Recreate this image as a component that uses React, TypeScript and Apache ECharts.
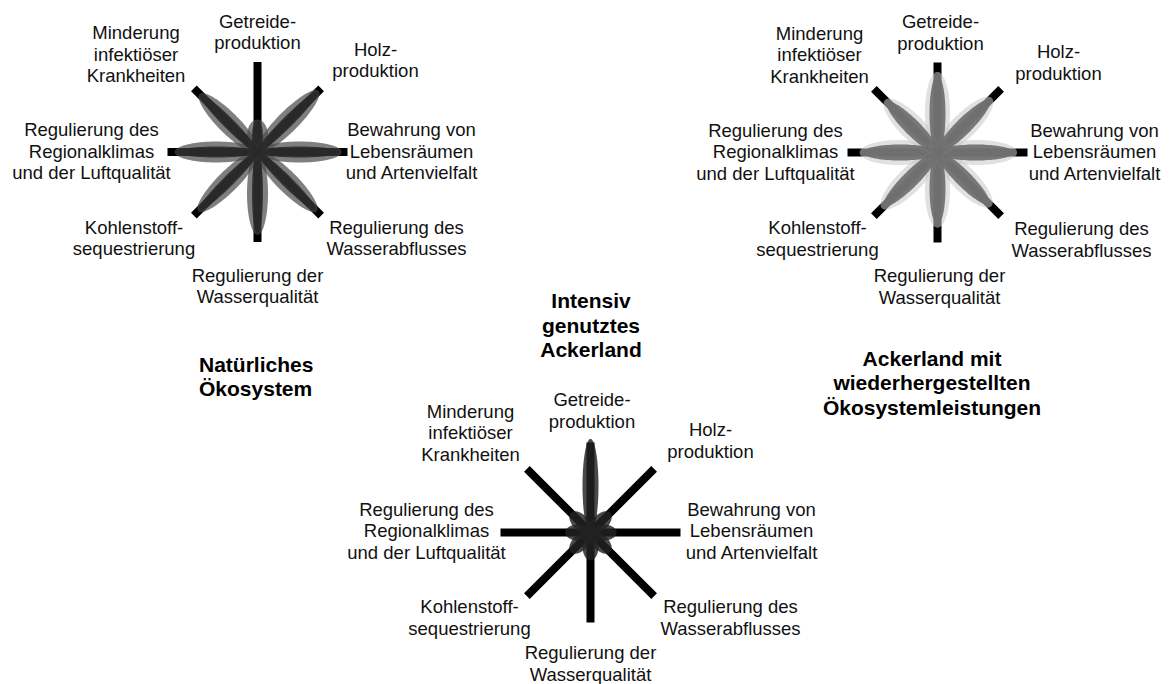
import React, { useEffect, useRef } from "react";
import * as echarts from "echarts";

// ---- data ----
const categories: string[] = [
  "Getreide-\nproduktion",
  "Holz-\nproduktion",
  "Bewahrung von\nLebensräumen\nund Artenvielfalt",
  "Regulierung des\nWasserabflusses",
  "Regulierung der\nWasserqualität",
  "Kohlenstoff-\nsequestrierung",
  "Regulierung des\nRegionalklimas\nund der Luftqualität",
  "Minderung\ninfektiöser\nKrankheiten",
];
const categoryAngles: number[] = [0, 45, 90, 135, 180, 225, 270, 315];

const titleNatural = "Natürliches\nÖkosystem";
const titleRestored = "Ackerland mit\nwiederhergestellten\nÖkosystemleistungen";
const titleIntensive = "Intensiv\ngenutztes\nAckerland";

// petal lengths, 100 = full spoke
const naturalValues: number[] = [36, 96, 93.5, 93, 92, 93, 92, 91];
const restoredValues: number[] = [86, 82, 85, 81, 80, 84, 83, 79];
const intensiveValues: number[] = [104, 31, 29, 31, 31, 31, 28, 31];

// ---- layout ----
const W = 1174;
const H = 684;
const SPOKE = 90;
const centers: number[][] = [
  [257.5, 152],
  [937.5, 152.5],
  [590.5, 532.5],
];
// label block centres relative to each flower centre
const labelOffsets: number[][][] = [
  [[0, -120], [118, -92], [154, -1], [139, 86], [0, 134], [-123.5, 86], [-166, -1], [-121.5, -98]],
  [[3, -120], [121, -90], [157, -1], [144, 87], [2, 134], [-120, 86], [-162, -1], [-118, -98]],
  [[1.5, -122], [120, -92], [161, -2], [140, 85], [0, 131], [-121, 85], [-164, -2], [-120, -100]],
];

const FONT = "'Liberation Sans', Arial, Helvetica, sans-serif";

function petalPoints(c: number[], tip: number[], width: number): number[][] {
  const dx = tip[0] - c[0];
  const dy = tip[1] - c[1];
  const len = Math.hypot(dx, dy) || 1;
  const ux = dx / len, uy = dy / len;
  const nx = -uy, ny = ux;
  const pts: number[][] = [];
  const n = 90;
  for (let i = 0; i < n; i++) {
    const t = (i / n) * Math.PI * 2;
    const a = (len / 2) * (1 - Math.cos(t));
    const b = (width / 2) * Math.sin(t);
    pts.push([c[0] + ux * a + nx * b, c[1] + uy * a + ny * b]);
  }
  return pts;
}

function petalSeries(polarIndex: number, values: number[], width: number, fill: string, extra: number) {
  return {
    type: "custom",
    coordinateSystem: "polar",
    polarIndex,
    silent: true,
    data: values.map((v, i) => [v, categoryAngles[i]]),
    renderItem: (_params: any, api: any) => {
      const r = api.value(0) + extra;
      const a = api.value(1);
      const c = api.coord([0, a]);
      const tip = api.coord([r, a]);
      return {
        type: "polygon",
        shape: { points: petalPoints(c, tip, width) },
        style: { fill },
      };
    },
  };
}

function labelTexts(chartIdx: number): any[] {
  const [cx, cy] = centers[chartIdx];
  return categories.map((txt, i) => ({
    type: "text",
    x: cx + labelOffsets[chartIdx][i][0],
    y: cy + labelOffsets[chartIdx][i][1],
    silent: true,
    style: {
      text: txt,
      fill: "#111",
      font: `18.5px ${FONT}`,
      lineHeight: 21.5,
      align: "center",
      textAlign: "center",
      verticalAlign: "middle",
      textVerticalAlign: "middle",
    },
  }));
}

function titleText(txt: string, x: number, y: number, align: string): any {
  return {
    type: "text",
    x,
    y,
    silent: true,
    style: {
      text: txt,
      fill: "#000",
      font: `bold 21px ${FONT}`,
      lineHeight: 24.5,
      align,
      textAlign: align,
      verticalAlign: "middle",
      textVerticalAlign: "middle",
    },
  };
}

export default function App() {
  const ref = useRef<HTMLDivElement>(null);
  useEffect(() => {
    if (!ref.current) return;
    const chart = echarts.init(ref.current, undefined, { renderer: "svg" });
    const polar = centers.map((c) => ({ center: [c[0], c[1]], radius: SPOKE }));
    const angleAxis = centers.map((_c, i) => ({
      polarIndex: i,
      type: "value",
      min: 0,
      max: 360,
      interval: 45,
      startAngle: 90,
      clockwise: true,
      axisLine: { show: false },
      axisTick: { show: false },
      axisLabel: { show: false },
      splitLine: { show: true, lineStyle: { color: "#000", width: 8 } },
    }));
    const radiusAxis = centers.map((_c, i) => ({
      polarIndex: i,
      type: "value",
      min: 0,
      max: 100,
      axisLine: { show: false },
      axisTick: { show: false },
      axisLabel: { show: false },
      splitLine: { show: false },
    }));
    chart.setOption({
      animation: false,
      backgroundColor: "#fff",
      polar,
      angleAxis,
      radiusAxis,
      series: [
        petalSeries(0, naturalValues, 21, "rgba(73,73,73,0.7)", 0),
        petalSeries(0, naturalValues, 11, "rgba(40,40,40,0.85)", -1),
        petalSeries(1, restoredValues, 25, "rgba(200,200,200,0.55)", 3.5),
        petalSeries(1, restoredValues, 16, "rgba(111,111,111,0.92)", 0),
        petalSeries(2, intensiveValues, 16, "rgba(34,34,34,0.82)", 0),
      ],
      graphic: {
        elements: [
          ...labelTexts(0),
          ...labelTexts(1),
          ...labelTexts(2),
          titleText(titleNatural, 199, 376.5, "left"),
          titleText(titleRestored, 932, 382.5, "center"),
          titleText(titleIntensive, 591, 325, "center"),
        ],
      },
    });
    return () => chart.dispose();
  }, []);
  return (
    <div
      ref={ref}
      style={{ position: "absolute", left: 0, top: 0, width: W, height: H, background: "#fff" }}
    />
  );
}
